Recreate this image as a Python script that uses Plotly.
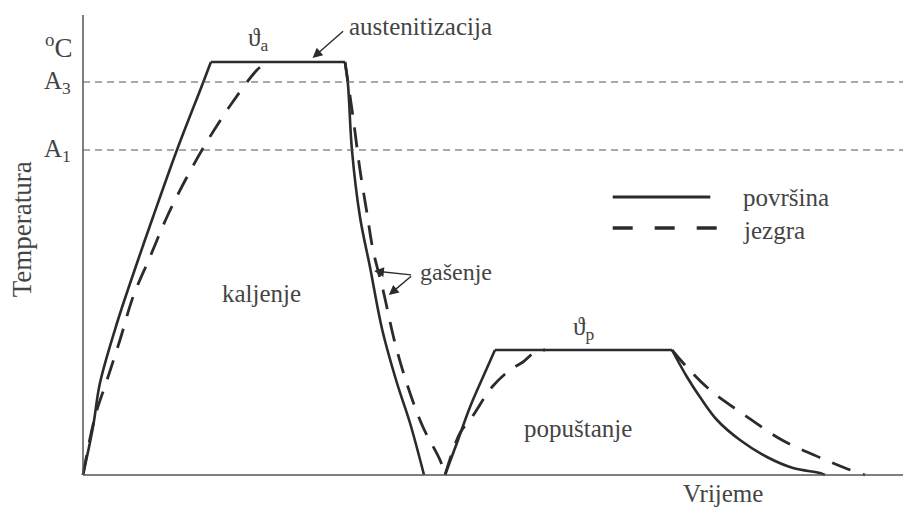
import plotly.graph_objects as go

# time (arbitrary units) and temperature (arbitrary units)
# površina = surface, jezgra = core; None splits the smooth parts from the plateaus
surf_t = [0, 1.22, 2.07, 4.15, 6.59, 8.54, 11.46, 14.63, 15.6, None,
          15.6, 31.95, None,
          31.95, 32.3, 32.8, 33.78, 35.0, 36.5, 38.29, 39.88, 41.59, None,
          44.15, 45.6, 47.2, 48.78, 50.24, None,
          50.24, 71.83, None,
          71.83, 73.66, 75.24, 77.32, 80.12, 83.41, 86.59, 89.88, 90.49]
surf_T = [0, 96, 184, 304, 424, 516, 650, 784, 826, None,
          826, 826, None,
          826, 784, 650, 516, 416, 290, 184, 104, 0, None,
          0, 64, 136, 196, 250, None,
          250, 250, None,
          250, 196, 156, 110, 70, 36, 14, 4, 0]

core_t = [0, 1.46, 2.93, 4.51, 6.1, 8.17, 10.24, 12.68, 15.24, 18.17, 21.22, 22.44, None,
          31.95, 32.93, 33.78, 34.63, 35.37, 36.59, 38.05, 39.63, 41.46, 43.54, 44.15, None,
          44.15, 45.98, 47.44, 49.88, 52.07, 53.66, 55.12, 56.34, None,
          71.83, 73.41, 76.46, 80.49, 85.24, 90.0, 92.93, 95.37]
core_T = [0, 116, 190, 270, 356, 436, 516, 596, 670, 744, 810, 826, None,
          826, 716, 610, 524, 450, 370, 264, 176, 96, 30, 0, None,
          0, 84, 116, 176, 210, 226, 246, 250, None,
          250, 220, 170, 122, 70, 34, 14, 0]

A3 = 786
A1 = 650
t_end = 100
T_top = 920

ink = "#2b2b2b"
txt = "#444444"
serif = "Liberation Serif"

fig = go.Figure()

fig.add_trace(go.Scatter(x=core_t, y=core_T, mode="lines", connectgaps=False,
                         line=dict(color=ink, width=2.8, dash="20px,13px", shape="spline", smoothing=1.0),
                         hoverinfo="skip", showlegend=False))
fig.add_trace(go.Scatter(x=surf_t, y=surf_T, mode="lines", connectgaps=False,
                         line=dict(color=ink, width=2.6, shape="spline", smoothing=1.0),
                         hoverinfo="skip", showlegend=False))

shapes = [
    # axes
    dict(type="line", x0=0, x1=0, y0=0, y1=T_top, line=dict(color="#555", width=1.5)),
    dict(type="line", x0=0, x1=t_end, y0=0, y1=0, line=dict(color="#555", width=1.5)),
    # A3 / A1 reference lines
    dict(type="line", x0=0, x1=t_end, y0=A3, y1=A3, line=dict(color="#555", width=1.1, dash="7px,5px")),
    dict(type="line", x0=0, x1=t_end, y0=A1, y1=A1, line=dict(color="#555", width=1.1, dash="7px,5px")),
    # legend samples
    dict(type="line", x0=64.6, x1=76.5, y0=556, y1=556, line=dict(color=ink, width=3)),
    dict(type="line", x0=64.6, x1=77.4, y0=494, y1=494, line=dict(color=ink, width=3.4, dash="20px,22px")),
]

def lab(x, y, s, size=25, xanchor="center", angle=0):
    return dict(x=x, y=y, text=s, showarrow=False, xanchor=xanchor, yanchor="middle",
                textangle=angle, font=dict(family=serif, size=size, color=txt))

annotations = [
    lab(-1.1, 858, "<sup>o</sup>C", 27, "right"),
    lab(-1.2, 786, "A<sub>3</sub>", 25, "right"),
    lab(-1.2, 650, "A<sub>1</sub>", 25, "right"),
    lab(-7.4, 492, "Temperatura", 27, angle=-90),
    lab(21.3, 872, "ϑ<sub>a</sub>", 25),
    lab(32.2, 898, "austenitizacija", 25, "left"),
    lab(21.8, 364, "kaljenje", 25),
    lab(40.9, 406, "gašenje", 24, "left"),
    lab(61.0, 294, "ϑ<sub>p</sub>", 25),
    lab(60.4, 94, "popuštanje", 25),
    lab(78.0, -36, "Vrijeme", 25),
    lab(80.2, 556, "površina", 25, "left"),
    lab(80.2, 490, "jezgra", 25, "left"),
]

# pointer arrows
for hx, hy, tx, ty in [(28.0, 834, 31.9, 890), (35.5, 408, 40.2, 400), (37.3, 360, 40.2, 400)]:
    annotations.append(dict(x=hx, y=hy, ax=tx, ay=ty, xref="x", yref="y", axref="x", ayref="y",
                            text="", showarrow=True, arrowhead=2, arrowsize=1.4, arrowwidth=1.4,
                            arrowcolor=ink))

fig.update_layout(
    width=903, height=508,
    margin=dict(l=0, r=0, t=0, b=0),
    paper_bgcolor="white", plot_bgcolor="white",
    shapes=shapes, annotations=annotations,
    xaxis=dict(range=[-10.12, 100], visible=False, fixedrange=True),
    yaxis=dict(range=[-66, 950], visible=False, fixedrange=True),
)

fig.write_html("out.html", config={"displayModeBar": False},
               post_script="document.body.style.margin='0';")
